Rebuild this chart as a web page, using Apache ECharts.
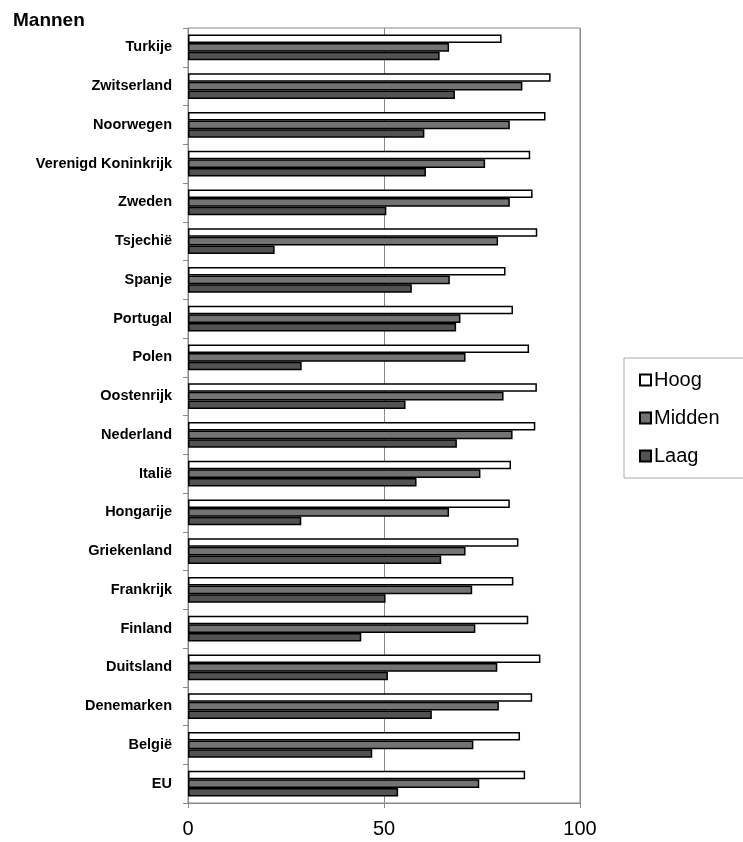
<!DOCTYPE html>
<html><head><meta charset="utf-8">
<script src="https://cdn.jsdelivr.net/npm/echarts@6/dist/echarts.min.js"></script>
<style>html,body{margin:0;padding:0;background:#fff}#c{width:743px;height:842px}</style>
</head><body><div id="c"></div>
<script>
const categories = ["Turkije","Zwitserland","Noorwegen","Verenigd Koninkrijk","Zweden","Tsjechië","Spanje","Portugal","Polen","Oostenrijk","Nederland","Italië","Hongarije","Griekenland","Frankrijk","Finland","Duitsland","Denemarken","België","EU"];
const hoog   = [80.0,92.5,91.2,87.3,87.9,89.1,81.0,82.9,87.0,89.0,88.6,82.4,82.1,84.3,83.0,86.8,89.9,87.8,84.7,86.0];
const midden = [66.6,85.3,82.1,75.8,82.1,79.1,66.8,69.5,70.8,80.5,82.8,74.6,66.6,70.8,72.5,73.3,78.9,79.3,72.8,74.3];
const laag   = [64.2,68.1,60.3,60.7,50.6,22.1,57.1,68.4,29.0,55.5,68.6,58.3,28.9,64.6,50.4,44.2,51.0,62.2,47.0,53.6];
const xTicks = [0,50,100];

const chart = echarts.init(document.getElementById('c'), null, {renderer:'canvas'});
const mk = (name, data, color) => ({
  name, type:'bar', data, barGap:'0%', barCategoryGap:'33%',
  itemStyle:{color, borderColor:'#000', borderWidth:1.5},
  emphasis:{disabled:true}, animation:false
});
chart.setOption({
  backgroundColor:'#fff',
  animation:false,
  title:{text:'Mannen', left:8, top:6, textStyle:{fontFamily:'Liberation Sans', fontWeight:'bold', fontSize:19, color:'#000'}},
  grid:{left:188, right:163, top:28, bottom:39, show:true, borderColor:'#888', borderWidth:1, backgroundColor:'#fff'},
  legend:{
    orient:'vertical', left:624, top:358, width:130,
    data:[{name:'Hoog',icon:'rect'},{name:'Midden',icon:'rect'},{name:'Laag',icon:'rect'}],
    itemWidth:11, itemHeight:11, itemGap:18,
    padding:[12,30,12,15],
    borderColor:'#aaa', borderWidth:1,
    textStyle:{fontFamily:'Liberation Sans', fontSize:20, color:'#000', padding:[0,0,0,-2]}
  },
  xAxis:{
    type:'value', min:0, max:100, interval:50,
    axisLine:{show:true, lineStyle:{color:'#888'}},
    axisTick:{show:true, length:5, lineStyle:{color:'#888'}},
    axisLabel:{fontFamily:'Liberation Sans', fontSize:20, color:'#000', margin:16,
      formatter:v => xTicks.includes(v) ? String(v) : ''},
    splitLine:{show:true, lineStyle:{color:'#888', width:1}}
  },
  yAxis:{
    type:'category', data:categories, inverse:true,
    axisLine:{show:true, lineStyle:{color:'#888'}},
    axisTick:{show:true, length:5, lineStyle:{color:'#888'}},
    axisLabel:{fontFamily:'Liberation Sans', fontWeight:'bold', fontSize:14.5, color:'#000', margin:16}
  },
  series:[mk('Hoog',hoog,'#ffffff'), mk('Midden',midden,'#737373'), mk('Laag',laag,'#525252')]
});
</script></body></html>
